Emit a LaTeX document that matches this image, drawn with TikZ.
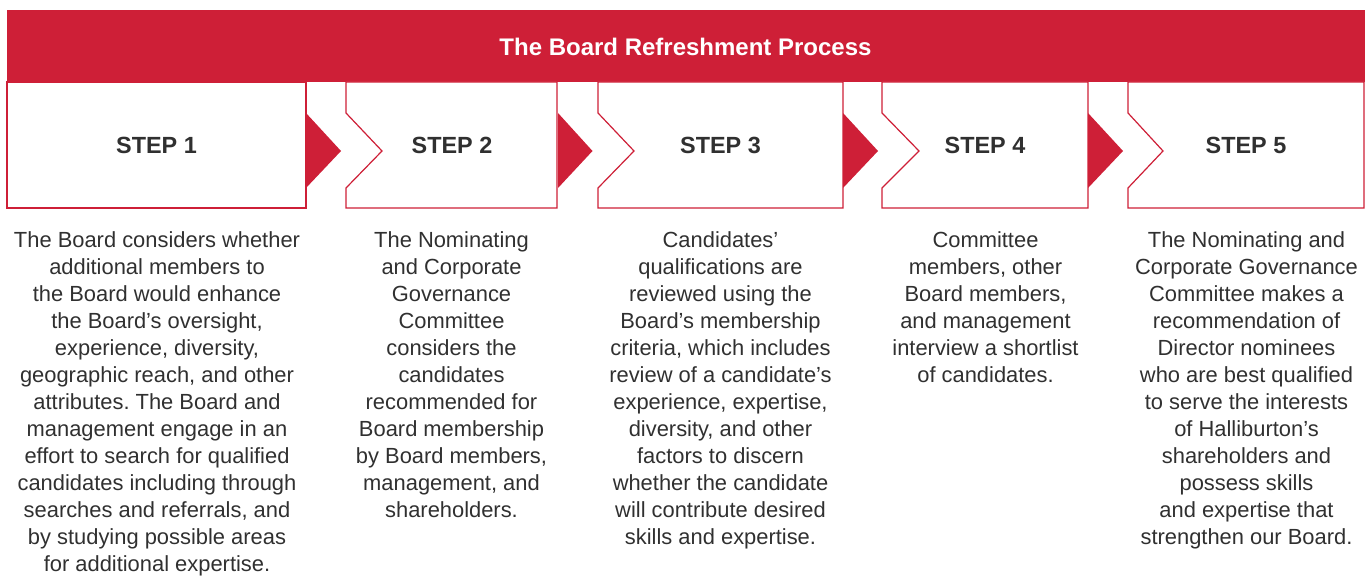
\documentclass[tikz,border=0pt]{standalone}
\usepackage{fontspec}
\setmainfont{Liberation Sans}
\frenchspacing
\definecolor{hred}{HTML}{CE1F37}
\definecolor{htext}{HTML}{303030}
\tikzset{
  stepbox/.style={draw=hred, line width=1.2pt, fill=white, line join=miter},
  chevron/.style={fill=hred},
  titletext/.style={text=white, font=\fontsize{24}{28}\bfseries\selectfont, inner sep=0pt},
  steplabel/.style={text=htext, font=\fontsize{23.4}{27}\bfseries\selectfont, inner sep=0pt},
  bodytext/.style={text=htext, font=\fontsize{21.9}{27}\selectfont, align=center, inner sep=0pt, anchor=north, execute at begin node={\strut}},
}
\begin{document}
\begin{tikzpicture}[x=1pt,y=-1pt]
\useasboundingbox (0,0) rectangle (1370,577);
% banner
\fill[hred] (7,10) rectangle (1364.5,82);
\node[titletext] (title) at (685.5,46.5) {The Board Refreshment Process};
% step boxes
\draw[stepbox] (7,82) rectangle (306,208);
\draw[stepbox] (346,82) -- (557,82) -- (557,208) -- (346,208) -- (346,188) -- (382,151) -- (346,113) -- cycle;
\draw[stepbox] (598,82) -- (843,82) -- (843,208) -- (598,208) -- (598,188) -- (634,151) -- (598,113) -- cycle;
\draw[stepbox] (882,82) -- (1088,82) -- (1088,208) -- (882,208) -- (882,188) -- (919,151) -- (882,113) -- cycle;
\draw[stepbox] (1128,82) -- (1364,82) -- (1364,208) -- (1128,208) -- (1128,188) -- (1163,151) -- (1128,113) -- cycle;
% arrows
\fill[chevron] (306,113) -- (341,151) -- (306,188) -- cycle;
\fill[chevron] (558,113) -- (592.5,151) -- (558,188) -- cycle;
\fill[chevron] (843,113) -- (878,151) -- (843,188) -- cycle;
\fill[chevron] (1088,113) -- (1123,151) -- (1088,188) -- cycle;
% step labels
\node[steplabel] (s1) at (156.5,145.5) {STEP 1};
\node[steplabel] (s2) at (452,145.5) {STEP 2};
\node[steplabel] (s3) at (720.5,145.5) {STEP 3};
\node[steplabel] (s4) at (985,145.5) {STEP 4};
\node[steplabel] (s5) at (1246,145.5) {STEP 5};
% body texts
\node[bodytext] (t1) at (157,231.5) {The Board considers whether\\additional members to\\the Board would enhance\\the Board’s oversight,\\experience, diversity,\\geographic reach, and other\\attributes. The Board and\\management engage in an\\effort to search for qualified\\candidates including through\\searches and referrals, and\\by studying possible areas\\for additional expertise.};
\node[bodytext] (t2) at (451.5,231.5) {The Nominating\\and Corporate\\Governance\\Committee\\considers the\\candidates\\recommended for\\Board membership\\by Board members,\\management, and\\shareholders.};
\node[bodytext] (t3) at (720.5,231.5) {Candidates’\\qualifications are\\reviewed using the\\Board’s membership\\criteria, which includes\\review of a candidate’s\\experience, expertise,\\diversity, and other\\factors to discern\\whether the candidate\\will contribute desired\\skills and expertise.};
\node[bodytext] (t4) at (985.5,231.5) {Committee\\members, other\\Board members,\\and management\\interview a shortlist\\of candidates.};
\node[bodytext] (t5) at (1246.5,231.5) {The Nominating and\\Corporate Governance\\Committee makes a\\recommendation of\\Director nominees\\who are best qualified\\to serve the interests\\of Halliburton’s\\shareholders and\\possess skills\\and expertise that\\strengthen our Board.};
\end{tikzpicture}
\end{document}
